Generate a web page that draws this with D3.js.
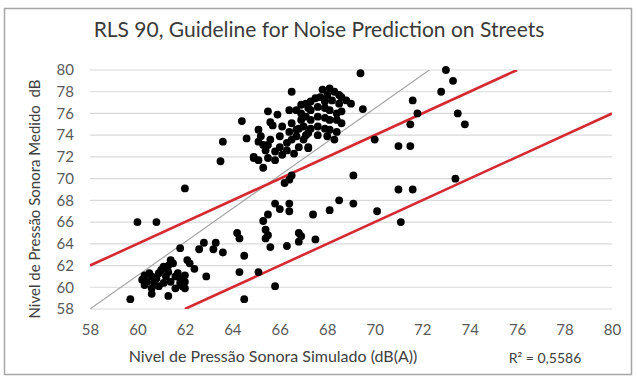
<!DOCTYPE html>
<html>
<head>
<meta charset="utf-8">
<script src="https://cdn.jsdelivr.net/npm/d3@7"></script>
<style>
html,body{margin:0;padding:0;background:#fff;}
svg{display:block;}
text{font-family:Lato,"Open Sans",sans-serif;}
</style>
</head>
<body>
<svg id="chart" width="637" height="380"></svg>
<script>
// ---- data ----
const titleText = "RLS 90, Guideline for Noise Prediction on Streets";
const xTitleText = "Nivel de Pressão Sonora Simulado (dB(A))";
const yTitleText = "Nivel de Pressão Sonora Medido  dB";
const r2Text = "R² = 0,5586";
const xTicks = [58,60,62,64,66,68,70,72,74,76,78,80];
const yTicks = [58,60,62,64,66,68,70,72,74,76,78,80];

const simulated = [
 59.7,60.6,61.3,62.0,60.0,60.8,61.8,62.8,63.3,62.6,63.2,63.6,62.1,62.2,62.4,62.9,61.4,62.0,
 60.2,60.3,60.4,60.5,60.7,60.8,60.9,61.0,61.1,61.1,61.2,61.3,61.4,61.5,61.6,61.7,61.8,61.8,61.9,62.0,62.0,61.3,60.6,60.3,60.9,61.6,60.6,
 64.2,64.3,64.5,64.3,64.5,65.1,
 66.2,66.4,66.5,69.1,65.8,66.0,66.4,66.4,65.5,65.3,65.4,65.5,65.4,65.6,67.4,68.1,68.5,69.1,70.1,66.8,66.9,66.8,67.5,66.3,65.8,
 73.0,73.3,72.8,71.6,71.8,71.5,73.5,73.8,71.0,71.5,73.4,71.0,71.6,71.1,70.0,
 69.4,66.5,68.1,68.3,68.5,69.0,69.5,65.5,65.9,66.4,64.4,63.6,63.5,64.6,65.3,64.9,65.1,67.2,65.7,
 65.2,65.1,65.3,65.5,65.6,65.6,66.1,66.5,66.9,67.0,65.4,65.8,66.0,66.3,66.5,66.7,67.0,67.2,65.8,66.1,66.3,66.6,66.8,67.2,65.5,64.9,66.9,67.2,66.0,66.4,66.7,65.1,
 66.7,66.9,66.8,67.1,67.3,67.5,67.7,67.9,68.0,68.2,68.5,68.6,68.4,68.1,67.9,67.6,67.3,67.1,67.3,67.6,67.9,68.1,68.4,68.6,67.3,67.6,67.9,68.1,68.4,67.1,67.6,68.0,68.3,67.8,68.6,68.8
];
const measured = [
 58.9,59.4,59.2,59.9,66.0,66.0,63.6,64.1,64.1,63.5,63.5,63.2,62.5,62.2,61.7,61.0,62.5,69.1,
 60.7,61.1,60.5,61.3,60.4,60.8,61.3,61.6,60.4,61.9,61.0,61.4,60.5,62.2,61.0,61.3,60.4,60.8,60.1,61.1,60.5,62.0,59.9,60.2,60.1,59.9,61.0,
 65.0,64.5,62.9,61.4,58.9,61.4,
 69.6,69.9,70.3,70.3,67.7,67.2,67.7,67.0,66.7,66.1,65.3,64.8,64.5,63.7,66.7,67.1,68.0,67.7,67.0,65.0,64.7,64.2,64.4,63.8,60.1,
 80.0,79.0,78.0,77.2,76.0,75.0,76.0,75.0,73.0,73.0,70.0,69.0,69.0,66.0,73.6,
 79.7,78.0,78.3,78.0,77.7,76.9,76.4,76.2,75.9,76.3,75.3,73.4,71.6,73.7,71.0,72.0,71.7,72.8,74.9,
 73.9,73.4,73.1,73.1,73.6,75.2,74.8,75.1,76.0,74.8,72.6,72.5,72.9,73.3,73.6,73.9,73.6,74.2,71.7,72.2,72.6,72.3,72.9,72.9,71.9,71.9,76.8,76.5,73.9,74.3,74.5,74.5,
 76.3,75.4,74.6,76.9,77.1,77.4,77.5,77.1,77.7,77.2,76.9,76.2,76.0,76.3,76.5,76.6,76.3,75.7,75.4,75.7,75.6,75.4,75.4,75.1,74.6,74.8,74.6,74.5,74.3,74.0,74.0,73.9,73.6,78.2,77.5,77.2
];

// reference lines (endpoints in data units)
const trendX = [58, 72.3];
const trendY = [58, 80];
const upperBandX = [58, 76];
const upperBandY = [62, 80];
const lowerBandX = [62, 80];
const lowerBandY = [58, 76];

// ---- drawing ----
const svg = d3.select("#chart");
const plot = {left: 90, right: 612, top: 70, bottom: 309};

const x = d3.scaleLinear().domain([58, 80]).range([plot.left, plot.right]);
const y = d3.scaleLinear().domain([58, 80]).range([plot.bottom, plot.top]);

// outer frame
svg.append("rect").attr("x", 4.5).attr("y", 8.5).attr("width", 627).attr("height", 366)
  .attr("fill", "#fff").attr("stroke", "#a6a6a6").attr("stroke-width", 1.5);

// title
svg.append("text").attr("x", 319).attr("y", 37).attr("text-anchor", "middle")
  .attr("font-size", 21).attr("fill", "#3a3a3a").text(titleText);

// horizontal gridlines
svg.append("g").selectAll("line").data(yTicks).join("line")
  .attr("x1", plot.left).attr("x2", plot.right)
  .attr("y1", d => y(d)).attr("y2", d => y(d))
  .attr("stroke", "#d9d9d9").attr("stroke-width", 1.2);

// axes (labels only)
const xAxis = d3.axisBottom(x).tickValues(xTicks).tickSize(0).tickPadding(0).tickFormat(d3.format("d"));
const gx = svg.append("g").attr("transform", `translate(0,${plot.bottom + 15})`).call(xAxis);
gx.select(".domain").remove();
gx.selectAll("text").attr("font-size", 15).attr("fill", "#595959").attr("font-family", "Lato, sans-serif");

const yAxis = d3.axisLeft(y).tickValues(yTicks).tickSize(0).tickPadding(0).tickFormat(d3.format("d"));
const gy = svg.append("g").attr("transform", `translate(${plot.left - 16},0)`).call(yAxis);
gy.select(".domain").remove();
gy.selectAll("text").attr("font-size", 15).attr("fill", "#595959").attr("font-family", "Lato, sans-serif");

// clip
svg.append("clipPath").attr("id", "clip").append("rect")
  .attr("x", plot.left).attr("y", plot.top).attr("width", plot.right - plot.left).attr("height", plot.bottom - plot.top);

const lineGen = d3.line().x(d => x(d[0])).y(d => y(d[1]));
const lines = svg.append("g").attr("clip-path", "url(#clip)");

// points
const pts = simulated.map((v, i) => [v, measured[i]]);
svg.append("g").selectAll("circle").data(pts).join("circle")
  .attr("cx", d => x(d[0])).attr("cy", d => y(d[1])).attr("r", 3.9)
  .attr("fill", "#000");

lines.append("path").datum(d3.zip(trendX, trendY)).attr("d", lineGen)
  .attr("fill", "none").attr("stroke", "#a6a6a6").attr("stroke-width", 1.2);
lines.append("path").datum(d3.zip(upperBandX, upperBandY)).attr("d", lineGen)
  .attr("fill", "none").attr("stroke", "#d42a32").attr("stroke-width", 2.6);
lines.append("path").datum(d3.zip(lowerBandX, lowerBandY)).attr("d", lineGen)
  .attr("fill", "none").attr("stroke", "#d42a32").attr("stroke-width", 2.6);

// axis titles
svg.append("text").attr("x", 273).attr("y", 362).attr("text-anchor", "middle")
  .attr("font-size", 16).attr("fill", "#404040").text(xTitleText);
svg.append("text").attr("x", 545).attr("y", 363).attr("text-anchor", "middle")
  .attr("font-size", 14).attr("fill", "#404040").text(r2Text);
svg.append("text").attr("transform", `translate(40,199) rotate(-90)`).attr("text-anchor", "middle")
  .attr("font-size", 15).attr("fill", "#404040").attr("xml:space", "preserve").text(yTitleText);
</script>
</body>
</html>
